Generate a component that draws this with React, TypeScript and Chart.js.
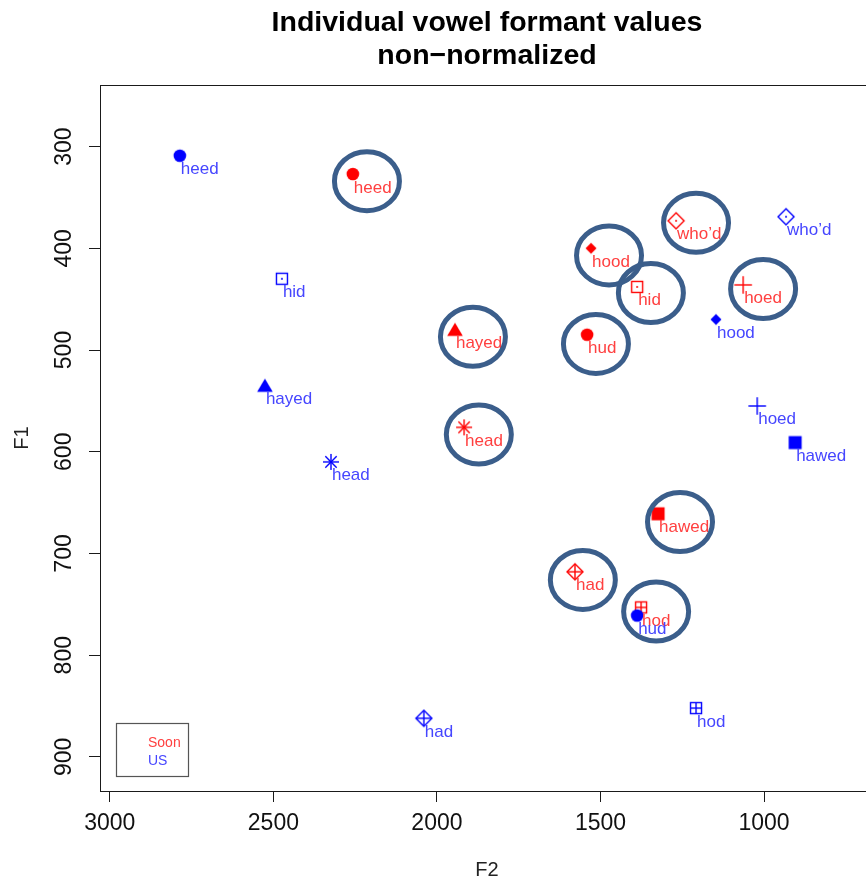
import React, { useEffect, useRef } from "react";
import { Chart, registerables } from "chart.js";

Chart.register(...registerables);

// ---------- data ----------
const TITLE_LINES = ["Individual vowel formant values", "non\u2212normalized"];
const X_TITLE = "F2";
const Y_TITLE = "F1";
const X_TICKS = [3000, 2500, 2000, 1500, 1000];
const Y_TICKS = [300, 400, 500, 600, 700, 800, 900];
const X_MIN = 664;
const X_MAX = 3030;
const Y_MIN = 239.5;
const Y_MAX = 933.5;

const WORDS = ["heed", "hid", "hayed", "head", "had", "hod", "hud", "hood", "who\u2019d", "hoed", "hawed"];
const MARKERS = ["dot", "squareDot", "triangle", "asterisk", "diamondPlus", "squarePlus", "dot", "diamond", "diamondDot", "plus", "square"];

const US_F2 = [2786, 2474, 2526, 2324, 2040, 1208, 1388, 1147, 933, 1021, 905];
const US_F1 = [309, 430, 535, 610, 862, 852, 761, 470, 369, 555, 591];

const SOON_F2 = [2257, 1388, 1945, 1917, 1578, 1376, 1541, 1529, 1269, 1064, 1324];
const SOON_F1 = [327, 438, 480, 576, 718, 753, 485, 400, 373, 436, 661];

// annotation rings (centres in data units)
const RING_F2 = [2214, 1346, 1890, 1872, 1554, 1330, 1514, 1474, 1208, 1003, 1257];
const RING_F1 = [334, 444, 487, 583, 726, 757, 494, 407, 375, 440, 669];

const SERIES = ["US", "Soon"];
const LEGEND_LABELS = ["Soon", "US"];

// ---------- styles ----------
const BLUE = "#0000ff";
const RED = "#ff0000";
const BLUE_TEXT = "#4646ff";
const RED_TEXT = "#ff4040";
const RING = "#3b5e8b";
const AXIS = "#1a1a1a";
const FONT = "'Liberation Sans', Arial, Helvetica, sans-serif";

function glyph(kind: string, color: string): HTMLCanvasElement {
  const c = document.createElement("canvas");
  c.width = 24;
  c.height = 24;
  const g = c.getContext("2d")!;
  g.translate(12, 12);
  g.fillStyle = color;
  g.strokeStyle = color;
  g.lineWidth = 1.4;
  const line = (x1: number, y1: number, x2: number, y2: number) => {
    g.beginPath();
    g.moveTo(x1, y1);
    g.lineTo(x2, y2);
    g.stroke();
  };
  const diamondPath = (r: number) => {
    g.beginPath();
    g.moveTo(0, -r);
    g.lineTo(r, 0);
    g.lineTo(0, r);
    g.lineTo(-r, 0);
    g.closePath();
  };
  switch (kind) {
    case "dot":
      g.beginPath();
      g.arc(0, 0, 6.3, 0, Math.PI * 2);
      g.fill();
      break;
    case "square":
      g.fillRect(-6.5, -6.5, 13, 13);
      break;
    case "squareDot":
      g.strokeRect(-5.5, -5.5, 11, 11);
      g.beginPath();
      g.arc(0, 0, 1, 0, Math.PI * 2);
      g.fill();
      break;
    case "squarePlus":
      g.strokeRect(-5.5, -5.5, 11, 11);
      line(-5.5, 0, 5.5, 0);
      line(0, -5.5, 0, 5.5);
      break;
    case "triangle":
      g.beginPath();
      g.moveTo(0, -7);
      g.lineTo(7.8, 6.3);
      g.lineTo(-7.8, 6.3);
      g.closePath();
      g.fill();
      break;
    case "diamond":
      diamondPath(5.5);
      g.fill();
      break;
    case "diamondDot":
      diamondPath(8);
      g.stroke();
      g.beginPath();
      g.arc(0, 0, 1, 0, Math.PI * 2);
      g.fill();
      break;
    case "diamondPlus":
      diamondPath(8);
      g.stroke();
      line(-8, 0, 8, 0);
      line(0, -8, 0, 8);
      break;
    case "plus":
      line(-8.8, 0, 8.8, 0);
      line(0, -8.8, 0, 8.8);
      break;
    case "asterisk":
      line(-8, 0, 8, 0);
      line(0, -8, 0, 8);
      line(-5.7, -5.7, 5.7, 5.7);
      line(-5.7, 5.7, 5.7, -5.7);
      break;
  }
  return c;
}

const overlayPlugin = {
  id: "overlay",
  afterDatasetsDraw(chart: any) {
    const ctx = chart.ctx as CanvasRenderingContext2D;
    const { left, top, right, bottom } = chart.chartArea;
    const xs = chart.scales.x;
    const ys = chart.scales.y;
    ctx.save();

    // point labels (Soon first, US on top)
    ctx.font = `17px ${FONT}`;
    ctx.textAlign = "left";
    ctx.textBaseline = "alphabetic";
    const textColors = [BLUE_TEXT, RED_TEXT];
    [1, 0].forEach((di) => {
      const meta = chart.getDatasetMeta(di);
      ctx.fillStyle = textColors[di];
      meta.data.forEach((pt: any, i: number) => {
        ctx.fillText(WORDS[i], pt.x + 1, pt.y + 18.5);
      });
    });

    // plot box
    ctx.strokeStyle = AXIS;
    ctx.lineWidth = 1;
    ctx.strokeRect(Math.round(left) + 0.5, Math.round(top) + 0.5, Math.round(right - left), Math.round(bottom - top));

    // legend
    const lx = Math.round(left) + 16.5;
    const ly = Math.round(bottom) - 67.5;
    ctx.strokeStyle = "#555";
    ctx.lineWidth = 1.2;
    ctx.strokeRect(lx, ly, 72, 53);
    ctx.font = `14px ${FONT}`;
    ctx.fillStyle = RED_TEXT;
    ctx.fillText(LEGEND_LABELS[0], lx + 31.5, ly + 23.5);
    ctx.fillStyle = BLUE_TEXT;
    ctx.fillText(LEGEND_LABELS[1], lx + 31.5, ly + 41.5);

    // annotation rings
    ctx.strokeStyle = RING;
    ctx.lineWidth = 5;
    RING_F2.forEach((f2, i) => {
      const cx = xs.getPixelForValue(f2);
      const cy = ys.getPixelForValue(RING_F1[i]);
      ctx.beginPath();
      ctx.ellipse(cx, cy, 32.5, 29.5, 0, 0, Math.PI * 2);
      ctx.stroke();
    });

    ctx.restore();
  },
  afterDraw(chart: any) {
    const ctx = chart.ctx as CanvasRenderingContext2D;
    const { left, top, right, bottom } = chart.chartArea;
    const xs = chart.scales.x;
    const ys = chart.scales.y;
    const cx = (left + right) / 2;
    ctx.save();
    ctx.fillStyle = "#000";

    // title
    ctx.font = `bold 28.5px ${FONT}`;
    ctx.textAlign = "center";
    ctx.textBaseline = "alphabetic";
    ctx.fillText(TITLE_LINES[0], cx, 31);
    ctx.fillText(TITLE_LINES[1], cx, 64);

    // x tick labels
    ctx.font = `23px ${FONT}`;
    ctx.fillStyle = "#111";
    ctx.textBaseline = "middle";
    X_TICKS.forEach((v) => {
      ctx.fillText(String(v), xs.getPixelForValue(v), bottom + 32.5);
    });
    // y tick labels (rotated)
    Y_TICKS.forEach((v) => {
      ctx.save();
      ctx.translate(left - 35.5, ys.getPixelForValue(v));
      ctx.rotate(-Math.PI / 2);
      ctx.fillText(String(v), 0, 0);
      ctx.restore();
    });

    // axis titles
    ctx.font = `20px ${FONT}`;
    ctx.fillStyle = "#222";
    ctx.fillText(X_TITLE, cx, 870);
    ctx.save();
    ctx.translate(22, (top + bottom) / 2);
    ctx.rotate(-Math.PI / 2);
    ctx.fillText(Y_TITLE, 0, 0);
    ctx.restore();

    ctx.restore();
  },
};

export default function App() {
  const ref = useRef<HTMLCanvasElement | null>(null);

  useEffect(() => {
    if (!ref.current) return;
    const usPts = US_F2.map((x, i) => ({ x, y: US_F1[i] }));
    const soonPts = SOON_F2.map((x, i) => ({ x, y: SOON_F1[i] }));
    const chart = new Chart(ref.current, {
      type: "scatter",
      data: {
        datasets: [
          {
            label: SERIES[0],
            data: usPts,
            pointStyle: MARKERS.map((m) => glyph(m, BLUE)) as any,
            pointRadius: 8,
            pointHoverRadius: 8,
            showLine: false,
          },
          {
            label: SERIES[1],
            data: soonPts,
            pointStyle: MARKERS.map((m) => glyph(m, RED)) as any,
            pointRadius: 8,
            pointHoverRadius: 8,
            showLine: false,
          },
        ],
      },
      options: {
        animation: false,
        responsive: false,
        devicePixelRatio: 1,
        events: [],
        layout: { padding: { top: 85, right: 26, left: 0, bottom: 0 } },
        plugins: {
          legend: { display: false },
          title: { display: false },
          tooltip: { enabled: false },
        },
        scales: {
          x: {
            type: "linear",
            reverse: true,
            min: X_MIN,
            max: X_MAX,
            afterBuildTicks: (s: any) => {
              s.ticks = X_TICKS.map((v) => ({ value: v }));
            },
            afterFit: (s: any) => {
              s.height = 93;
            },
            ticks: { display: false },
            grid: { display: true, drawOnChartArea: false, drawTicks: true, tickLength: 11, color: AXIS, lineWidth: 1 },
            border: { display: true, color: AXIS, width: 1 },
          },
          y: {
            type: "linear",
            reverse: true,
            min: Y_MIN,
            max: Y_MAX,
            afterBuildTicks: (s: any) => {
              s.ticks = Y_TICKS.map((v) => ({ value: v }));
            },
            afterFit: (s: any) => {
              s.width = 100;
            },
            ticks: { display: false },
            grid: { display: true, drawOnChartArea: false, drawTicks: true, tickLength: 11, color: AXIS, lineWidth: 1 },
            border: { display: true, color: AXIS, width: 1 },
          },
        },
      } as any,
      plugins: [overlayPlugin],
    });
    return () => chart.destroy();
  }, []);

  return (
    <div style={{ position: "absolute", left: 0, top: 0, width: 866, height: 884, overflow: "hidden", background: "#fff" }}>
      <canvas ref={ref} width={900} height={884} style={{ display: "block", width: 900, height: 884 }} />
    </div>
  );
}
